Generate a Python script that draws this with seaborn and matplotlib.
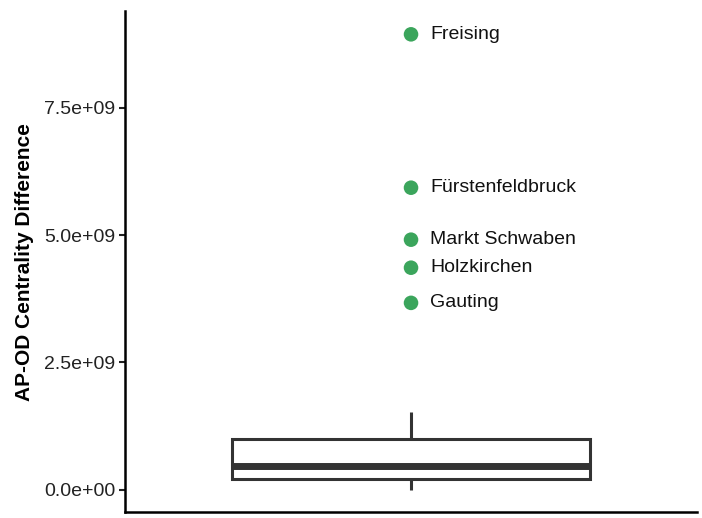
import numpy as np
import pandas as pd
import matplotlib
matplotlib.use('Agg')
import matplotlib.pyplot as plt
import seaborn as sns

# ── Data (values in 1e9 units)
body_values = [0.00, 0.05, 0.08, 0.10, 0.12, 0.14, 0.16, 0.17, 0.19, 0.21,
               0.22, 0.24, 0.26, 0.29, 0.31, 0.34, 0.37, 0.40, 0.42, 0.45,
               0.47, 0.50, 0.54, 0.58, 0.63, 0.68, 0.73, 0.79, 0.85, 0.92,
               1.00, 1.08, 1.17, 1.28, 1.40, 1.53]
outlier_names = ['Freising', 'Fürstenfeldbruck', 'Markt Schwaben', 'Holzkirchen', 'Gauting']
outlier_values = [8.94, 5.93, 4.91, 4.36, 3.67]

all_values = np.array(body_values + outlier_values) * 1e9
df = pd.DataFrame({'group': 'all', 'diff': all_values})
out = pd.DataFrame({'group': 'all', 'diff': np.array(outlier_values) * 1e9, 'name': outlier_names})

sns.set_style('ticks')
plt.rcParams['font.family'] = ['Liberation Sans', 'DejaVu Sans']

fig = plt.figure(figsize=(7.02, 5.18), dpi=100)
ax = fig.add_axes([0.178, 0.012, 0.815, 0.966])

line_col = '#333333'
sns.boxplot(data=df, x='group', y='diff', ax=ax, width=0.75, showfliers=False,
            color='white', linewidth=2.2,
            boxprops=dict(facecolor='white', edgecolor=line_col),
            whiskerprops=dict(color=line_col),
            capprops=dict(visible=False),
            medianprops=dict(color=line_col, linewidth=5))

sns.scatterplot(data=out, x='group', y='diff', ax=ax, color='#3ba55c', s=110,
                edgecolor='none', zorder=5, legend=False)
for name, v in zip(out['name'], out['diff']):
    ax.text(0.04, v, name, va='center', ha='left', fontsize=14, color='#111111')

ax.set_xlim(-0.6, 0.6)
ax.set_ylim(-0.43e9, 9.39e9)
yt = [0, 2.5e9, 5.0e9, 7.5e9]
ax.set_yticks(yt)
ax.set_yticklabels(['0.0e+00', '2.5e+09', '5.0e+09', '7.5e+09'], fontsize=14, color='#222222')
ax.set_xticks([])
ax.set_xlabel('')
ax.set_ylabel('AP-OD Centrality Difference', fontsize=15, fontweight='bold',
              color='black', labelpad=7)
ax.tick_params(axis='y', length=4, width=1.5, color='#222222', pad=3)
for s in ['top', 'right']:
    ax.spines[s].set_visible(False)
for s in ['left', 'bottom']:
    ax.spines[s].set_linewidth(1.8)
    ax.spines[s].set_color('black')

plt.savefig('out.png', dpi=100)
plt.close()
